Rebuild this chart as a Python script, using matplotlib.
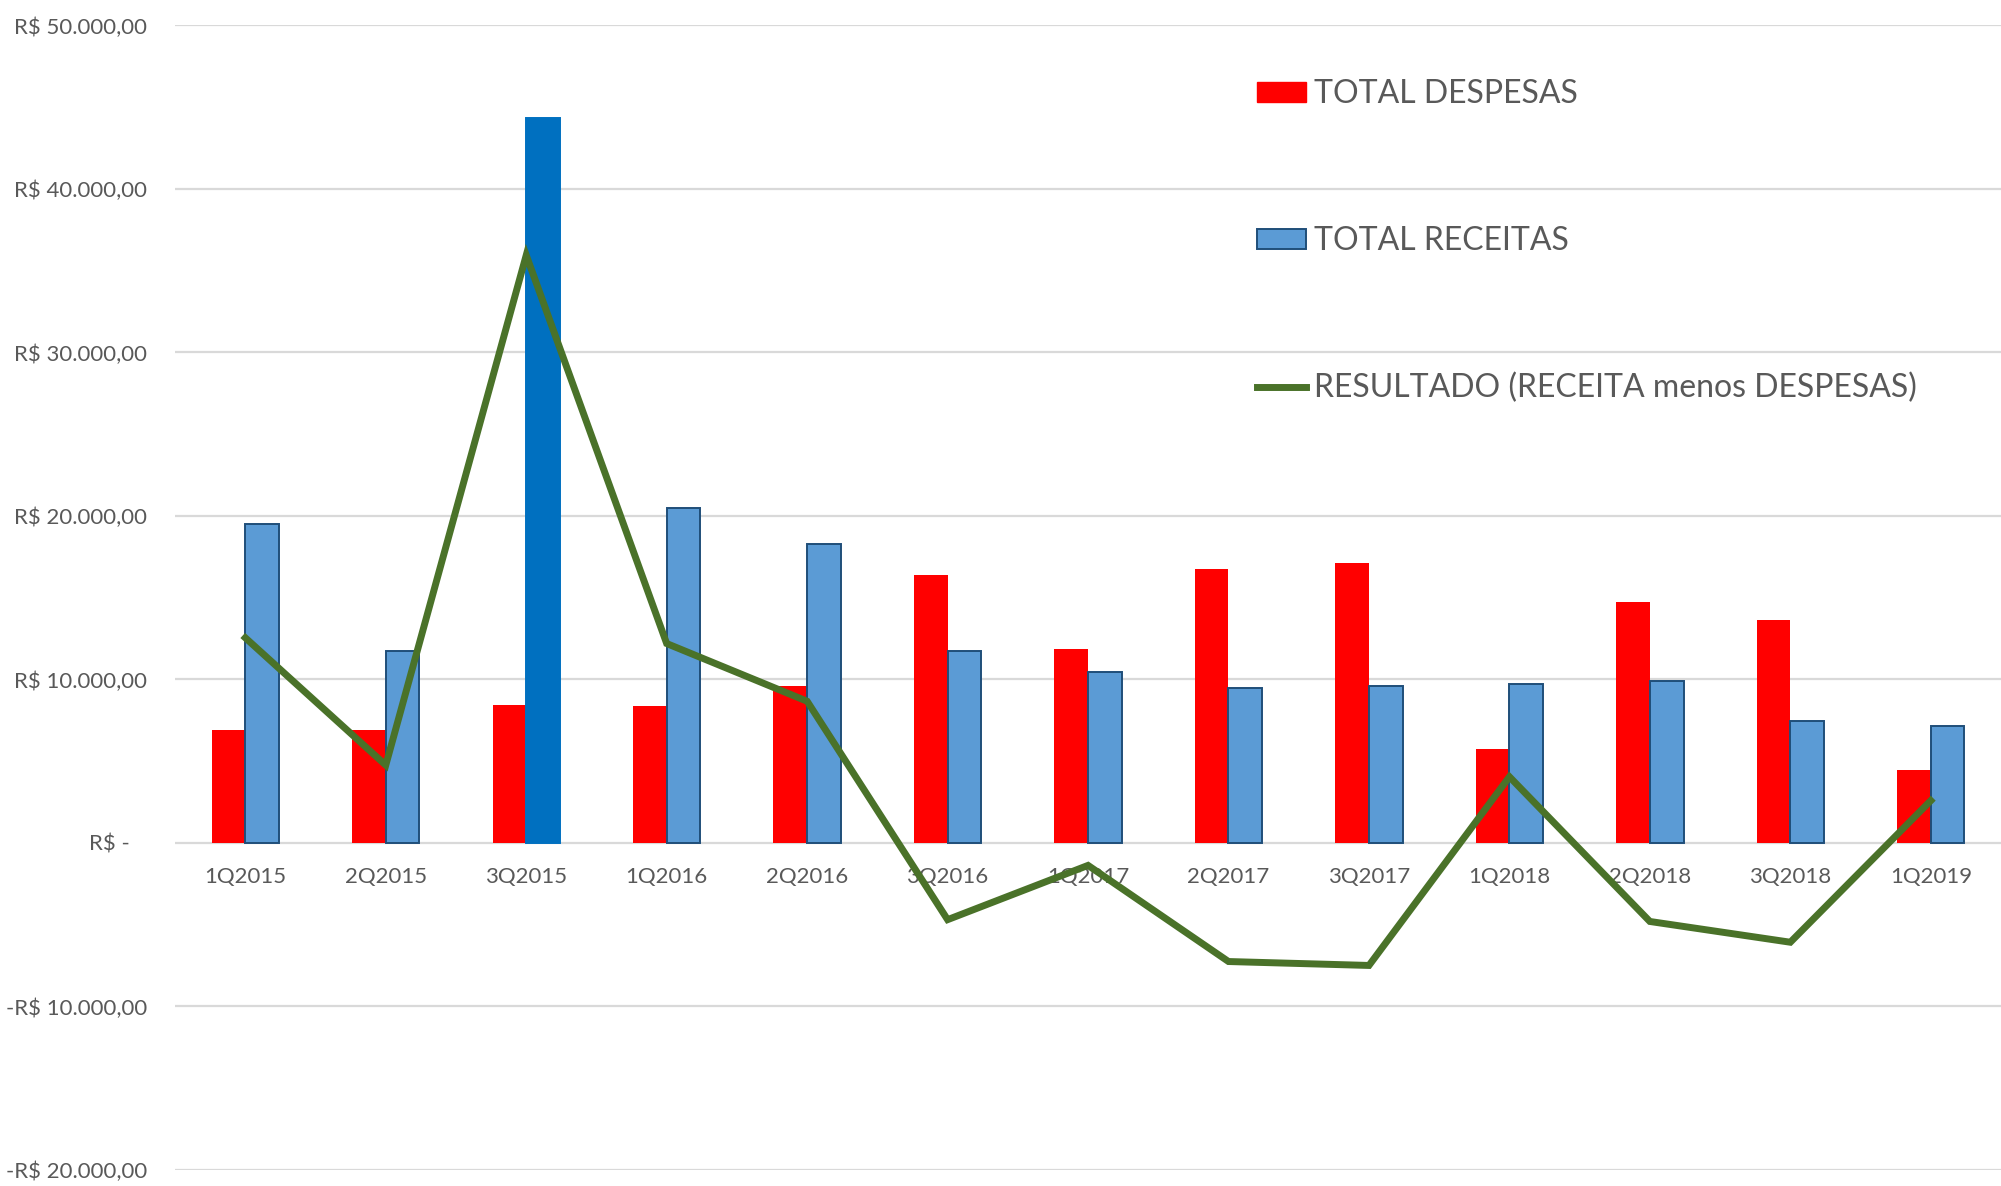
import numpy as np
import matplotlib.pyplot as plt
from matplotlib.patches import Patch
from matplotlib.lines import Line2D

trimestres = ['1Q2015', '2Q2015', '3Q2015', '1Q2016', '2Q2016', '3Q2016', '1Q2017',
              '2Q2017', '3Q2017', '1Q2018', '2Q2018', '3Q2018', '1Q2019']
despesas = [6940, 6940, 8450, 8350, 9610, 16370, 11840, 16780, 17140, 5750, 14710, 13610, 4490]
receitas = [19490, 11730, 44330, 20510, 18300, 11730, 10470, 9510, 9590, 9730, 9920, 7450, 7140]
resultado = [12550, 4760, 35950, 12200, 8670, -4690, -1370, -7250, -7490, 4050, -4800, -6070, 2590]
y_ticks = [-20000, -10000, 0, 10000, 20000, 30000, 40000, 50000]
y_labels = ['-R$ 20.000,00', '-R$ 10.000,00', 'R$ -   ', 'R$ 10.000,00', 'R$ 20.000,00',
            'R$ 30.000,00', 'R$ 40.000,00', 'R$ 50.000,00']

cinza = '#595959'
plt.rcParams['font.family'] = ['Lato', 'DejaVu Sans']

fig = plt.figure(figsize=(20.01, 11.86), dpi=100)
ax = fig.add_axes([0.0875, 0.0135, 0.9125, 0.965])

x = np.arange(len(trimestres))
w = 0.24

# despesas em vermelho, receitas em azul (3Q2015 destacado sem borda)
ax.bar(x - w / 2, despesas, w, color='#FF0000', zorder=2)
cores = ['#5B9BD5'] * len(trimestres)
bordas = ['#1F4E79'] * len(trimestres)
cores[2] = '#0070C0'
bordas[2] = '#0070C0'
ax.bar(x + w / 2, receitas, w, color=cores, edgecolor=bordas, linewidth=1.4, zorder=2)
ax.plot(x, resultado, color='#4A7229', linewidth=5, zorder=3, solid_joinstyle='miter')

ax.set_xlim(-0.5, 12.5)
ax.set_ylim(-20000, 50000)
ax.set_yticks(y_ticks)
ax.set_yticklabels(y_labels)
ax.set_xticks(x)
ax.set_xticklabels(trimestres)

for s in ax.spines.values():
    s.set_visible(False)
ax.spines['bottom'].set_position(('data', 0))
ax.tick_params(axis='both', length=0, labelsize=16, labelcolor=cinza)
ax.tick_params(axis='x', pad=17.5)
ax.tick_params(axis='y', pad=20)
ax.yaxis.grid(True, color='#D9D9D9', linewidth=1.6)
ax.xaxis.set_zorder(1.5)
ax.yaxis.set_zorder(0.5)

handles = [Patch(facecolor='#FF0000', edgecolor='#FF0000'),
           Patch(facecolor='#5B9BD5', edgecolor='#1F4E79', linewidth=1.4),
           Line2D([0], [0], color='#4A7229', linewidth=5)]
labels = ['TOTAL DESPESAS', 'TOTAL RECEITAS', 'RESULTADO (RECEITA menos DESPESAS)']
leg = fig.legend(handles, labels, loc='upper left', bbox_to_anchor=(1257 / 2001, 1 - 79 / 1186),
                 frameon=False, fontsize=23, labelcolor=cinza, handlelength=1.52,
                 handleheight=0.6, handletextpad=0.27, labelspacing=3.66, borderpad=0,
                 borderaxespad=0)

fig.savefig('out.png', dpi=100)
